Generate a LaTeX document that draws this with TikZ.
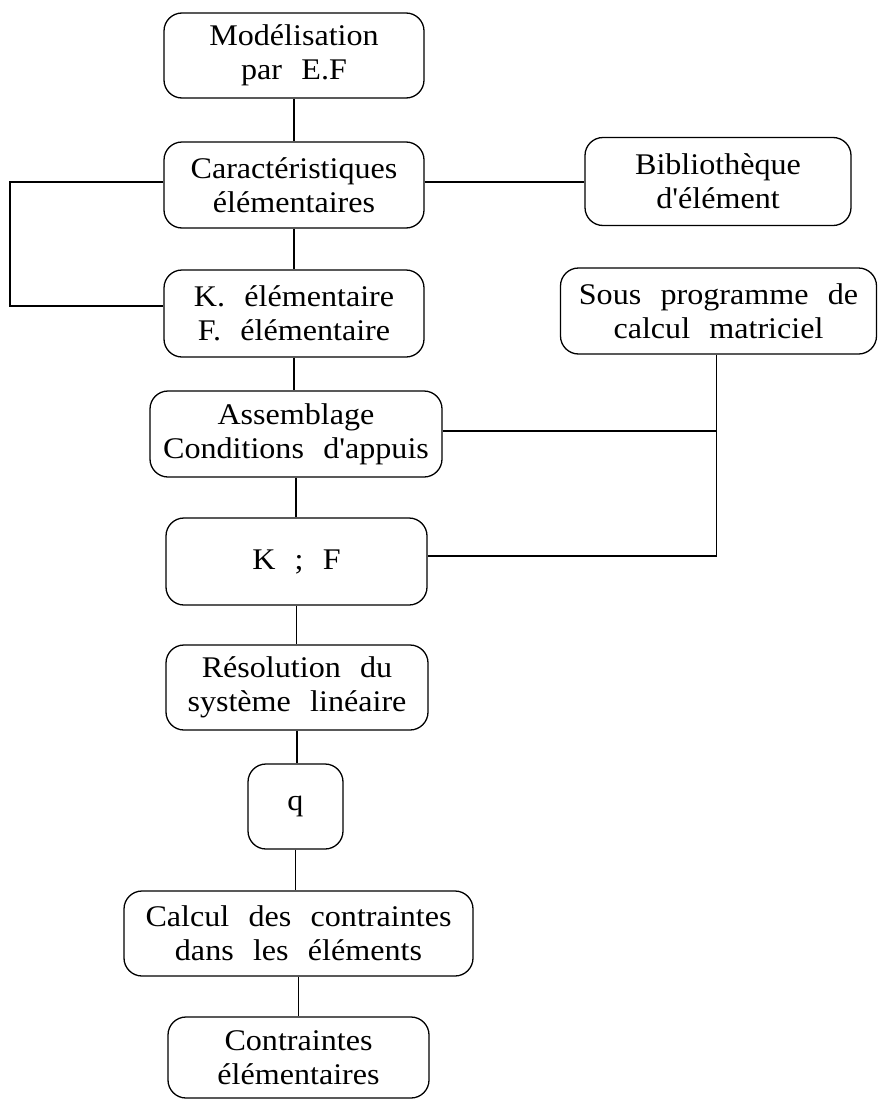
\documentclass[tikz,border=0pt]{standalone}
\usepackage{fontspec}
\usepackage{graphicx}
\setmainfont{Liberation Serif}
\usetikzlibrary{calc}
\newcommand\boxfont{\fontsize{30}{34}\selectfont\spaceskip=18pt\relax}
\newcommand\wl[1]{\scalebox{1.07}[1]{#1}}
\tikzset{
  box/.style={draw, line width=1.3pt, rounded corners=18pt, align=center,
    inner sep=0pt, font=\boxfont},
  link/.style={line width=1.2pt}
}
\begin{document}
\begin{tikzpicture}[x=1pt,y=-1pt]
\useasboundingbox (0,0) rectangle (878,1100);
\node[box, minimum width=260pt, minimum height=85pt] (A) at (294,55.5) {\wl{Modélisation}\\\wl{par E.F}};
\node[box, minimum width=260pt, minimum height=86pt] (B) at (294,185) {\wl{Caractéristiques}\\\wl{élémentaires}};
\node[box, minimum width=266pt, minimum height=88pt] (Bib) at (718,181.5) {\wl{Bibliothèque}\\\wl{d\textquotesingle élément}};
\node[box, minimum width=260pt, minimum height=87pt] (K) at (294,313.5) {\wl{K. élémentaire}\\\wl{F. élémentaire}};
\node[box, minimum width=316pt, minimum height=86pt] (S) at (718.5,311) {\wl{Sous programme de}\\\wl{calcul matriciel}};
\node[box, minimum width=292pt, minimum height=86pt] (As) at (296,434) {\wl{Assemblage}\\\wl{Conditions d\textquotesingle appuis}};
\node[box, minimum width=261pt, minimum height=87pt] (KF) at (296.5,561.5) {\wl{K ; F}};
\node[box, minimum width=262pt, minimum height=85pt] (R) at (297,687.5) {\wl{Résolution du}\\\wl{système linéaire}};
\node[box, minimum width=95pt, minimum height=85pt] (q) at (295.5,806.5) {\wl{q}};
\node[box, minimum width=349pt, minimum height=85pt] (C) at (298.5,933.5) {\wl{Calcul des contraintes}\\\wl{dans les éléments}};
\node[box, minimum width=261pt, minimum height=81pt] (CE) at (298.5,1057.5) {\wl{Contraintes}\\\wl{élémentaires}};
% vertical chain
\draw[link] (A.south) -- (A.south |- B.north);
\draw[link] (B.south) -- (B.south |- K.north);
\draw[link] (K.south) -- (K.south |- As.north);
\draw[link] (As.south) -- (As.south |- KF.north);
\draw[link] (KF.south) -- (KF.south |- R.north);
\draw[link] (R.south) -- (R.south |- q.north);
\draw[link] (q.south) -- (q.south |- C.north);
\draw[link] (C.south) -- (C.south |- CE.north);
% side links
\coordinate (bR) at ($(B.east)+(0,-3)$);
\coordinate (bL) at ($(B.west)+(0,-3)$);
\draw[link] (bR) -- (bR -| Bib.west);
\coordinate (loopTop) at (10,182);
\coordinate (loopBot) at (10,306);
\draw[link] (bL) -- (loopTop) -- (loopBot) -- (loopBot -| K.west);
\coordinate (sA) at ($(S.south)+(-2,0)$);
\coordinate (sB) at (sA |- 0,431);
\coordinate (sC) at (sA |- 0,556);
\draw[link] (sA) -- (sC) -- (sC -| KF.east);
\draw[link] (sB) -- (sB -| As.east);
\end{tikzpicture}
\end{document}
